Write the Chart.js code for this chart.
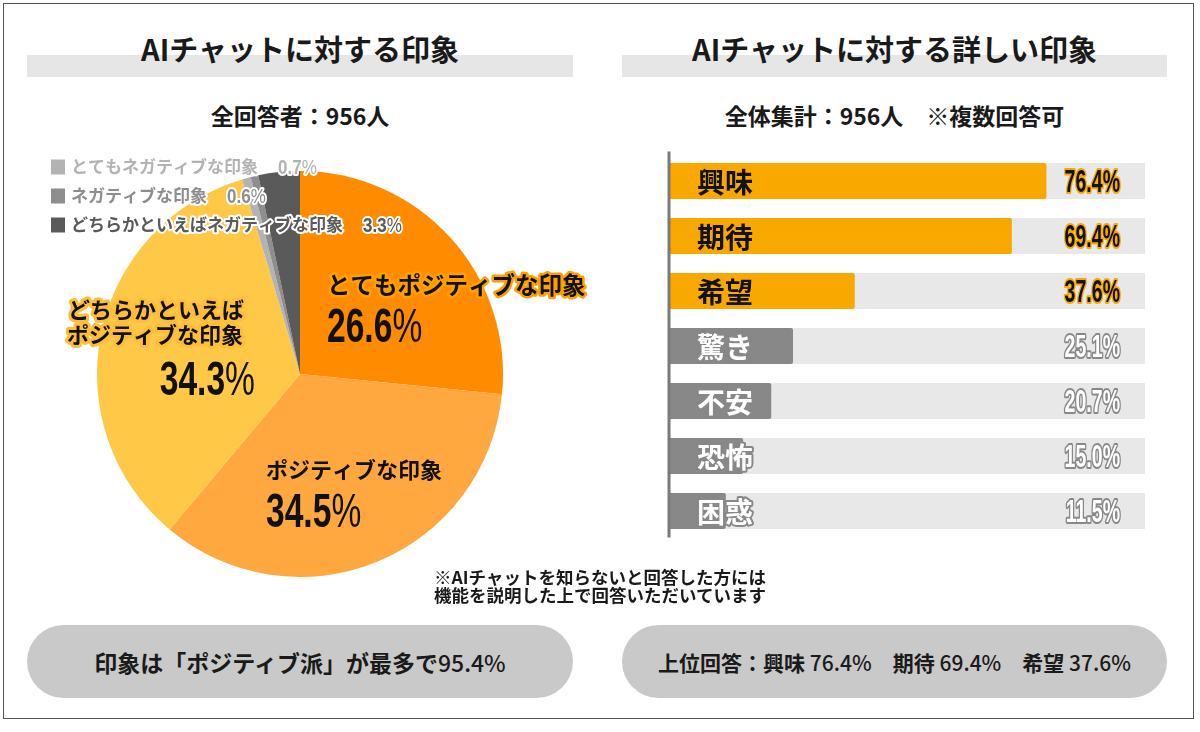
<!DOCTYPE html>
<html lang="ja">
<head>
<meta charset="utf-8">
<script src="https://cdn.jsdelivr.net/npm/chart.js@4.4.1/dist/chart.umd.min.js"></script>
<style>
html,body{margin:0;padding:0;background:#fff;}
body{width:1200px;height:732px;position:relative;overflow:hidden;font-family:"Noto Sans CJK JP","Noto Sans",sans-serif;color:#1a1a1a;}
.frame{position:absolute;left:3px;top:3px;width:1191px;height:716px;border:1.5px solid #555;box-sizing:border-box;}
.band{position:absolute;top:55px;height:22px;background:#e6e6e6;}
.title{position:absolute;top:30px;height:36px;line-height:36px;font-size:29px;font-weight:700;text-align:center;color:#1a1a1a;}
.sub{position:absolute;top:99px;height:32px;line-height:32px;font-size:23px;font-weight:700;text-align:center;color:#1a1a1a;}
.pill{position:absolute;top:625px;height:73px;border-radius:37px;background:#c9c9c9;font-weight:700;display:flex;align-items:center;justify-content:center;color:#1a1a1a;white-space:pre;}
.pill .n{font-weight:500;}
.note{position:absolute;left:360px;width:480px;top:568px;text-align:center;font-size:17.5px;font-weight:700;line-height:17.5px;color:#1a1a1a;}
#pieWrap{position:absolute;left:40px;top:150px;width:580px;height:448px;}
#barWrap{position:absolute;left:660px;top:150px;width:520px;height:392px;}
</style>
</head>
<body>
<div class="frame"></div>

<div class="band" style="left:27px;width:546px;"></div>
<div class="band" style="left:622px;width:545px;"></div>
<div class="title" id="t1" style="left:27px;width:546px;"></div>
<div class="title" id="t2" style="left:622px;width:545px;"></div>
<div class="sub" id="s1" style="left:27px;width:546px;"></div>
<div class="sub" id="s2" style="left:622px;width:545px;"></div>

<div id="pieWrap"><canvas id="pie" width="580" height="448"></canvas></div>
<div id="barWrap"><canvas id="bar" width="520" height="392"></canvas></div>

<div class="note" id="note"></div>
<div class="pill" id="p1" style="left:27px;width:546px;font-size:23px;"></div>
<div class="pill" id="p2" style="left:622px;width:545px;font-size:21px;"></div>

<script>
// ---------- DATA ----------
const leftTitle = 'AIチャットに対する印象';
const rightTitle = 'AIチャットに対する詳しい印象';
const leftSub = '全回答者：956人';
const rightSub = '全体集計：956人　※複数回答可';
const noteLines = ['※AIチャットを知らないと回答した方には', '機能を説明した上で回答いただいています'];

// Pie (clockwise from 12 o'clock)
const pieLabels = ['とてもポジティブな印象', 'ポジティブな印象', 'どちらかといえばポジティブな印象',
                   'とてもネガティブな印象', 'ネガティブな印象', 'どちらかといえばネガティブな印象'];
const pieValues = [26.6, 34.5, 34.3, 0.7, 0.6, 3.3];
const pieColors = ['#FF8C00', '#FFA840', '#FFC847', '#B3B3B3', '#8E8E8E', '#5A5A5A'];

// Bars
const barCats = ['興味', '期待', '希望', '驚き', '不安', '恐怖', '困惑'];
const barValues = [76.4, 69.4, 37.6, 25.1, 20.7, 15.0, 11.5];
const highlightCount = 3;
const barOrange = '#F9A800';
const barGray = '#888888';

// ---------- TEXT ----------
document.getElementById('t1').textContent = leftTitle;
document.getElementById('t2').textContent = rightTitle;
document.getElementById('s1').textContent = leftSub;
document.getElementById('s2').textContent = rightSub;
document.getElementById('note').innerHTML = noteLines.join('<br>');
const posSum = pieValues[0] + pieValues[1] + pieValues[2];
document.getElementById('p1').innerHTML = '印象は「ポジティブ派」が最多で<span class="n">' + posSum.toFixed(1) + '%</span>';
document.getElementById('p2').innerHTML = '上位回答：' +
  barCats.slice(0, 3).map((c, i) => c + ' <span class="n">' + barValues[i].toFixed(1) + '%</span>').join('　');

// ---------- helpers ----------
const JP = '"Noto Sans CJK JP","Noto Sans",sans-serif';
const NUM = '"Liberation Sans","Arial",sans-serif';

function drawPct(ctx, val, x, base, align, o) {
  const d = val.toFixed(1);
  ctx.save();
  ctx.font = `700 ${o.size}px ${NUM}`;
  const wd = ctx.measureText(d).width * o.scale;
  ctx.font = `${o.pw} ${o.size}px ${NUM}`;
  const wp = ctx.measureText('%').width * o.scale;
  const tot = wd + wp + (o.gap || 0);
  let x0 = align === 'right' ? x - tot : (align === 'center' ? x - tot / 2 : x);
  ctx.textAlign = 'left';
  ctx.textBaseline = 'alphabetic';
  ctx.lineJoin = 'round';
  const parts = [[d, 700, x0], ['%', o.pw, x0 + wd + (o.gap || 0)]];
  for (const [s, w, px] of parts) {
    ctx.save();
    ctx.translate(px, base);
    ctx.scale(o.scale, 1);
    ctx.font = `${w} ${o.size}px ${NUM}`;
    if (o.stroke) { ctx.strokeStyle = o.stroke; ctx.lineWidth = o.sw; ctx.strokeText(s, 0, 0); }
    ctx.fillStyle = o.fill;
    ctx.fillText(s, 0, 0);
    ctx.restore();
  }
  ctx.restore();
}

function outlinedText(ctx, s, x, y, font, fill, stroke, sw, align) {
  ctx.save();
  ctx.font = font;
  ctx.textAlign = align || 'left';
  ctx.textBaseline = 'middle';
  ctx.lineJoin = 'round';
  if (stroke) { ctx.strokeStyle = stroke; ctx.lineWidth = sw; ctx.strokeText(s, x, y); }
  ctx.fillStyle = fill;
  ctx.fillText(s, x, y);
  ctx.restore();
}

// ---------- PIE ----------
const pieLabelPlugin = {
  id: 'pieLabels',
  afterDraw(chart) {
    const ctx = chart.ctx;
    const arcs = chart.getDatasetMeta(0).data;
    const cx = arcs[0].x, cy = arcs[0].y, r = arcs[0].outerRadius;
    const k = r / 203;
    const big = { size: 48 * k, scale: 0.7, pw: 400, fill: '#111' };
    const lf = `700 ${22 * k}px ${JP}`;

    // slice 0: とてもポジティブな印象
    outlinedText(ctx, pieLabels[0], cx + 27 * k, cy - 89 * k, `700 ${23.5 * k}px ${JP}`, '#111', '#FFA000', 5, 'left');
    drawPct(ctx, pieValues[0], cx + 27 * k, cy - 32 * k, 'left', big);

    // slice 1: ポジティブな印象
    outlinedText(ctx, pieLabels[1], cx - 34 * k, cy + 96 * k, lf, '#111', pieColors[1], 5, 'left');
    drawPct(ctx, pieValues[1], cx - 34 * k, cy + 153 * k, 'left', big);

    // slice 2: どちらかといえば / ポジティブな印象
    const l2 = pieLabels[2];
    const split = l2.indexOf('ポジティブ');
    outlinedText(ctx, l2.slice(0, split), cx - 232 * k, cy - 64 * k, lf, '#111', '#FFBE3A', 6, 'left');
    outlinedText(ctx, l2.slice(split), cx - 233 * k, cy - 39 * k, lf, '#111', '#FFBE3A', 6, 'left');
    drawPct(ctx, pieValues[2], cx - 45 * k, cy + 21 * k, 'right', big);

    // legend for negative slices (top-left)
    const legendOrder = [3, 4, 5];
    const lx = cx - 249 * k, ly0 = cy - 207 * k, step = 29 * k;
    legendOrder.forEach((idx, j) => {
      const y = ly0 + j * step;
      ctx.fillStyle = pieColors[idx];
      ctx.fillRect(lx, y - 7.5, 14, 15);
      const f = `700 ${17 * k}px ${JP}`;
      ctx.save();
      ctx.font = f;
      const w = ctx.measureText(pieLabels[idx]).width;
      ctx.restore();
      outlinedText(ctx, pieLabels[idx], lx + 20, y, f, pieColors[idx], '#fff', 4, 'left');
      drawPct(ctx, pieValues[idx], lx + 20 + w + 20, y + 7, 'left',
        { size: 20, scale: 0.85, pw: 400, fill: pieColors[idx], stroke: '#fff', sw: 4 });
    });
  }
};

new Chart(document.getElementById('pie'), {
  type: 'pie',
  data: {
    labels: pieLabels,
    datasets: [{ data: pieValues, backgroundColor: pieColors, borderWidth: 0 }]
  },
  options: {
    responsive: false,
    animation: false,
    layout: { padding: { top: 21, bottom: 21, left: 0, right: 60 } },
    plugins: { legend: { display: false }, tooltip: { enabled: false } }
  },
  plugins: [pieLabelPlugin]
});

// ---------- BARS ----------
const barColors = barValues.map((v, i) => i < highlightCount ? barOrange : barGray);

const barDecorPlugin = {
  id: 'barDecor',
  beforeDatasetsDraw(chart) {
    const ctx = chart.ctx, ca = chart.chartArea;
    const trackRight = ca.right - 18;
    ctx.save();
    ctx.fillStyle = '#E8E8E8';
    chart.getDatasetMeta(0).data.forEach(b => {
      ctx.fillRect(ca.left, b.y - b.height / 2, trackRight - ca.left, b.height);
    });
    ctx.restore();
  },
  afterDatasetsDraw(chart) {
    const ctx = chart.ctx, ca = chart.chartArea;
    const bars = chart.getDatasetMeta(0).data;
    // axis line
    ctx.save();
    ctx.strokeStyle = '#7A7A7A';
    ctx.lineWidth = 3;
    ctx.beginPath();
    ctx.moveTo(ca.left, ca.top - 2);
    ctx.lineTo(ca.left, ca.bottom - 1);
    ctx.stroke();
    ctx.restore();
    bars.forEach((b, i) => {
      const hi = i < highlightCount;
      outlinedText(ctx, barCats[i], ca.left + 28, b.y + 1, `700 28px ${JP}`,
        hi ? '#111' : '#fff', hi ? null : barGray, 4, 'left');
      drawPct(ctx, barValues[i], ca.right - 43, b.y + 11, 'right',
        { size: 31, scale: 0.63, pw: 700, fill: hi ? '#111' : '#fff', stroke: hi ? barOrange : barGray, sw: 4 });
    });
  }
};

new Chart(document.getElementById('bar'), {
  type: 'bar',
  data: {
    labels: barCats,
    datasets: [{
      data: barValues,
      backgroundColor: barColors,
      borderWidth: 0,
      borderRadius: 2,
      borderSkipped: 'start',
      barPercentage: 0.655,
      categoryPercentage: 1
    }]
  },
  options: {
    indexAxis: 'y',
    responsive: false,
    animation: false,
    layout: { padding: { left: 9, right: 17, top: 3.5, bottom: 3.5 } },
    scales: {
      x: { display: false, min: 0, max: 100 },
      y: { display: false }
    },
    plugins: { legend: { display: false }, tooltip: { enabled: false } }
  },
  plugins: [barDecorPlugin]
});
</script>
</body>
</html>
